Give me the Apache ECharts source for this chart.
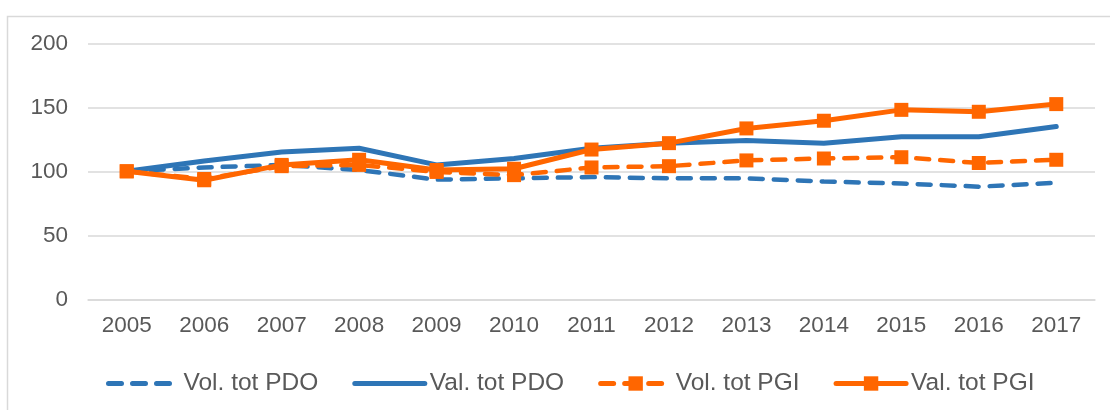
<!DOCTYPE html>
<html>
<head>
<meta charset="utf-8">
<script src="https://cdn.jsdelivr.net/npm/echarts@6/dist/echarts.min.js"></script>
<style>html,body{margin:0;padding:0;background:#fff}#c{width:1110px;height:410px}</style>
</head>
<body>
<div id="c"></div>
<script>
const years = ['2005','2006','2007','2008','2009','2010','2011','2012','2013','2014','2015','2016','2017'];
const volPDO = [100, 103, 105, 101, 93.5, 94.5, 95.5, 94.5, 94.5, 92, 90.5, 88, 91];
const valPDO = [100, 108, 115, 118, 105, 110, 118, 122, 124, 122, 127, 127, 135];
const volPGI = [100, 94, 104, 105, 99.5, 97, 103, 104, 108.5, 110, 111, 106.5, 109];
const valPGI = [100, 93, 105, 109, 101, 102, 117, 122, 133.5, 139.5, 148, 146.5, 152.5];
const yTicks = {min: 0, max: 200, interval: 50};

const BLUE = '#2E75B6', ORANGE = '#FF6600';
const chart = echarts.init(document.getElementById('c'));
chart.setOption({
  animation: false,
  textStyle: {fontFamily: 'Liberation Sans, Arial, sans-serif'},
  graphic: [{
    type: 'rect', left: 5, top: 14, z: -1,
    shape: {width: 1200, height: 500},
    style: {fill: 'none', stroke: '#d9d9d9', lineWidth: 1.5}
  }],
  grid: {left: 88, right: 15, top: 43.3, bottom: 110.7, containLabel: false},
  xAxis: {
    type: 'category', data: years, boundaryGap: true,
    axisLine: {show: true, lineStyle: {color: '#d9d9d9', width: 1.5}},
    axisTick: {show: false},
    axisLabel: {color: '#595959', fontSize: 22.5, margin: 15}
  },
  yAxis: {
    type: 'value', min: yTicks.min, max: yTicks.max, interval: yTicks.interval,
    axisLine: {show: false}, axisTick: {show: false},
    axisLabel: {color: '#595959', fontSize: 22.5, margin: 20},
    splitLine: {lineStyle: {color: '#d9d9d9', width: 1.5}}
  },
  legend: {
    top: 366, left: 101, itemGap: 34, itemWidth: 70, itemHeight: 18,
    textStyle: {color: '#595959', fontSize: 24.5},
    lineStyle: {width: 5, cap: 'round'},
    data: [
      {name: 'Vol. tot PDO', itemStyle: {opacity: 0}},
      {name: 'Val. tot PDO', itemStyle: {opacity: 0}},
      'Vol. tot PGI', 'Val. tot PGI'
    ]
  },
  series: [
    {name: 'Vol. tot PDO', type: 'line', data: volPDO, symbol: 'none', z: 2,
     lineStyle: {color: BLUE, width: 4.5, type: [13, 11], cap: 'round'}, itemStyle: {color: BLUE}},
    {name: 'Val. tot PDO', type: 'line', data: valPDO, symbol: 'none', z: 3,
     lineStyle: {color: BLUE, width: 5, cap: 'round'}, itemStyle: {color: BLUE}},
    {name: 'Vol. tot PGI', type: 'line', data: volPGI, symbol: 'rect', symbolSize: 14, z: 4,
     lineStyle: {color: ORANGE, width: 4.5, type: [13, 11], cap: 'round'}, itemStyle: {color: ORANGE}},
    {name: 'Val. tot PGI', type: 'line', data: valPGI, symbol: 'rect', symbolSize: 14, z: 5,
     lineStyle: {color: ORANGE, width: 5, cap: 'round'}, itemStyle: {color: ORANGE}}
  ]
});
</script>
</body>
</html>
